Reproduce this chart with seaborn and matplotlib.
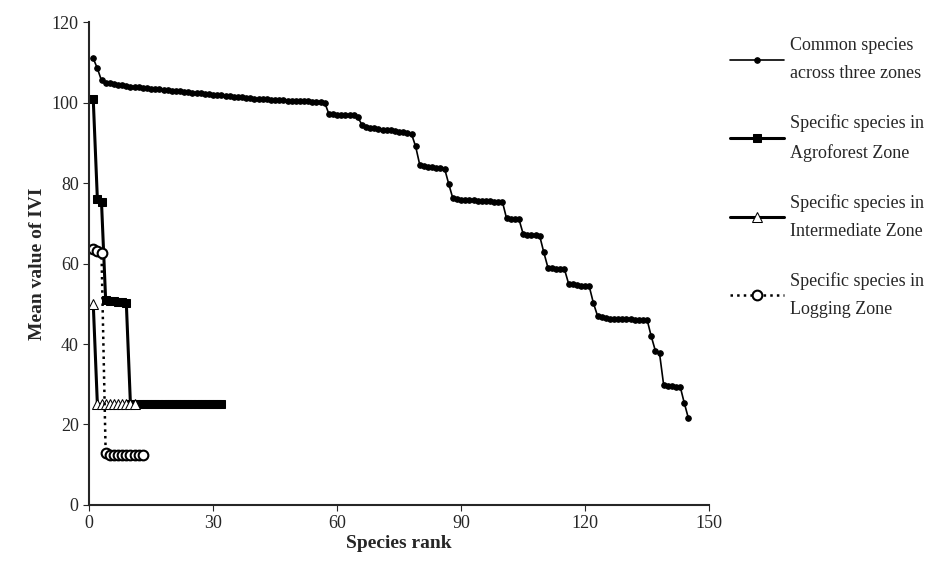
import matplotlib
matplotlib.use('Agg')

import matplotlib.pyplot as plt
import seaborn as sns
import pandas as pd

common = [111.0, 108.5, 105.5, 105.0,
          104.8, 104.6, 104.4, 104.3, 104.2, 104.0, 103.9, 103.8, 103.7, 103.6,
          103.5, 103.4, 103.3, 103.2, 103.1, 103.0, 102.9, 102.8, 102.7, 102.6,
          102.5, 102.4, 102.3, 102.2, 102.1, 102.0, 101.9, 101.8, 101.7, 101.6,
          101.5, 101.4, 101.3, 101.2, 101.1, 101.0, 100.9, 100.8, 100.8, 100.7,
          100.7, 100.6, 100.6, 100.5, 100.5, 100.4, 100.4, 100.3, 100.3, 100.2,
          100.2, 100.1, 100.0,
          97.2, 97.1, 97.0, 97.0, 96.9, 96.9, 96.8, 96.4,
          94.5, 94.0, 93.8, 93.6, 93.4, 93.3, 93.2, 93.1, 93.0, 92.8, 92.6, 92.4, 92.2,
          89.1,
          84.5, 84.2, 84.0, 83.9, 83.8, 83.7, 83.6,
          79.8,
          76.2, 76.0, 75.9, 75.8, 75.8, 75.7, 75.6, 75.6, 75.5, 75.5, 75.4, 75.4, 75.3,
          71.2, 71.1, 71.1, 71.0,
          67.4, 67.2, 67.1, 67.0, 66.9,
          62.8,
          59.0, 58.8, 58.7, 58.6, 58.6,
          55.0, 54.8, 54.6, 54.5, 54.4, 54.3,
          50.2,
          47.0, 46.6, 46.4, 46.3, 46.3, 46.2, 46.2, 46.1, 46.1, 46.0, 46.0, 46.0, 46.0,
          41.9,
          38.3, 37.7,
          29.8, 29.6, 29.5, 29.4, 29.4,
          25.3, 21.5]

agroforest = [100.8, 76.0, 75.2, 51.0, 50.8, 50.6, 50.5, 50.4, 50.2] + [25.0] * 23
intermediate = [50.0] + [25.0] * 10
logging = [63.6, 63.0, 62.6, 13.0] + [12.5] * 9

labels = ['Common species\nacross three zones',
          'Specific species in\nAgroforest Zone',
          'Specific species in\nIntermediate Zone',
          'Specific species in\nLogging Zone']

sns.set_style('ticks')
plt.rcParams['font.family'] = ['Liberation Serif', 'DejaVu Serif']

fig = plt.figure(figsize=(9.38, 5.68), dpi=100)
ax = fig.add_axes([0.095, 0.111, 0.661, 0.85])

series = [common, agroforest, intermediate, logging]
styles = [
    dict(marker='o', markersize=4, linewidth=1.2, linestyle='-', markerfacecolor='black'),
    dict(marker='s', markersize=6, linewidth=2.2, linestyle='-', markerfacecolor='black'),
    dict(marker='^', markersize=7, linewidth=2.2, linestyle='-', markerfacecolor='white'),
    dict(marker='o', markersize=7, linewidth=1.8, linestyle=':', markerfacecolor='white',
         markeredgewidth=1.5),
]

for vals, st, lab in zip(series, styles, labels):
    df = pd.DataFrame({'rank': range(1, len(vals) + 1), 'ivi': vals})
    sns.lineplot(data=df, x='rank', y='ivi', ax=ax, color='black',
                 markeredgecolor='black', label=lab, **st)

ax.set_xlim(0, 150)
ax.set_ylim(0, 120)
ax.set_xticks(range(0, 151, 30))
ax.set_yticks(range(0, 121, 20))
ax.tick_params(labelsize=13, direction='out', length=4)
ax.set_xlabel('Species rank', fontsize=14, fontweight='bold', labelpad=2)
ax.set_ylabel('Mean value of IVI', fontsize=14, fontweight='bold')
for s in ['left', 'bottom']:
    ax.spines[s].set_linewidth(1.5)
sns.despine(ax=ax)

leg = ax.legend(loc='upper left', bbox_to_anchor=(1.022, 0.985), frameon=False,
                fontsize=13, handlelength=3.0, labelspacing=1.75, handletextpad=0.3,
                borderaxespad=0)
for t in leg.get_texts():
    t.set_linespacing(1.9)

fig.savefig('out.png', dpi=100)
